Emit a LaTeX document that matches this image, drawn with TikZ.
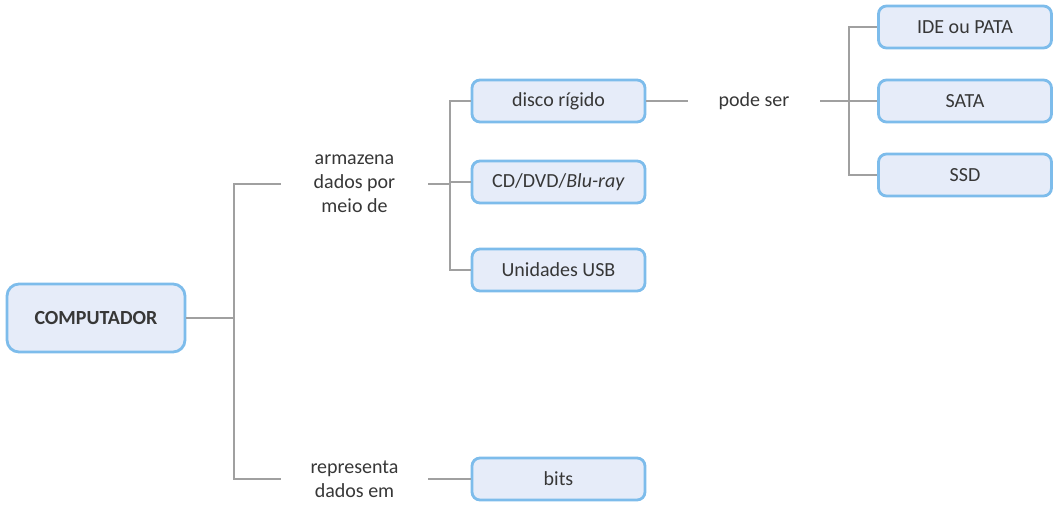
\documentclass[tikz,border=0pt]{standalone}
\usepackage{fontspec}
\setmainfont{Carlito}
\definecolor{boxfill}{RGB}{230,236,249}
\definecolor{boxline}{RGB}{125,188,235}
\definecolor{txt}{RGB}{55,55,55}
\definecolor{conn}{RGB}{160,160,160}
\begin{document}
\begin{tikzpicture}[
        x=0.5pt, y=-0.5pt,
        every node/.style={font=\fontsize{10}{12}\selectfont, text=txt},
        mainbox/.style={draw=boxline, fill=boxfill, line width=1.4pt, rounded corners=6pt,
            minimum width=89pt, minimum height=34pt, font=\fontsize{10}{12}\selectfont\bfseries},
        itembox/.style={draw=boxline, fill=boxfill, line width=1.4pt, rounded corners=4pt,
            minimum width=86.5pt, minimum height=21pt},
        linklabel/.style={align=center, inner sep=0pt},
        branch/.style={draw=conn, line width=1pt},
    ]
    \useasboundingbox (0,0) rectangle (1059,514);

    \node[mainbox](comp) at (96,318){COMPUTADOR};

    \node[linklabel, minimum width=73.5pt](arm) at (354.5,184){armazena\\dados por\\meio de};
    \node[linklabel, minimum width=73.5pt](rep) at (354.5,479){representa\\dados em};

    \node[itembox](disco) at (558.5,101){disco rígido};
    \node[itembox](cd) at (558.5,182){CD/DVD/\textit{Blu-ray}};
    \node[itembox](usb) at (558.5,270){Unidades USB};
    \node[itembox](bits) at (558.5,479){bits};

    \node[linklabel, minimum width=66pt](pode) at (754,101){pode ser};

    \node[itembox](ide) at (965,27){IDE ou PATA};
    \node[itembox](sata) at (965,101){SATA};
    \node[itembox](ssd) at (965,175){SSD};

    % ligacoes
    \draw[branch] (comp.east) -- ++(48,0) |- (arm.west);
    \draw[branch] (comp.east) -- ++(48,0) |- (rep.west);
    \draw[branch] (arm.east) -- ++(22,0) |- (disco.west);
    \draw[branch] (arm.east) -- ++(22,0) |- (cd.west);
    \draw[branch] (arm.east) -- ++(22,0) |- (usb.west);
    \draw[branch] (rep.east) -- (bits.west);
    \draw[branch] (disco.east) -- (pode.west);
    \draw[branch] (pode.east) -- ++(29,0) |- (ide.west);
    \draw[branch] (pode.east) -- ++(29,0) |- (sata.west);
    \draw[branch] (pode.east) -- ++(29,0) |- (ssd.west);
\end{tikzpicture}
\end{document}
